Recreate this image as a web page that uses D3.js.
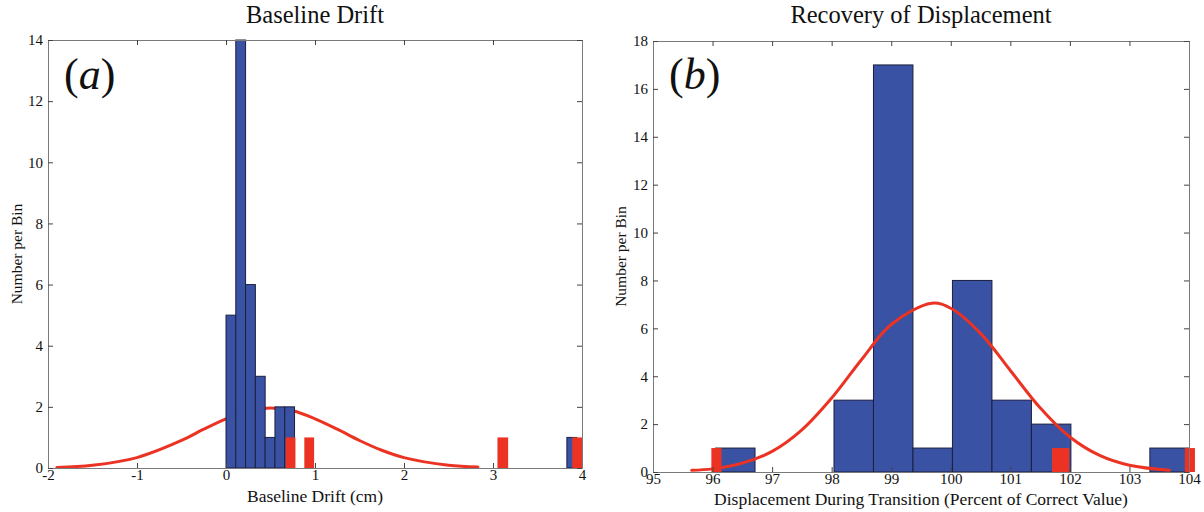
<!DOCTYPE html>
<html>
<head>
<meta charset="utf-8">
<script src="https://cdn.jsdelivr.net/npm/d3@7"></script>
<style>
  html, body { margin: 0; padding: 0; background: #fff; }
  svg { display: block; }
  text { font-family: "Liberation Serif", "Times New Roman", serif; fill: #111; }
  .tick text { font-size: 15px; fill: #111; }
</style>
</head>
<body>
<svg id="chart" width="1204" height="512"></svg>
<script>
// ---- Panel (a): baseline drift histogram ----
const driftBinStart = 0.0;
const driftBinWidth = 0.11;
const driftCounts = [5, 14, 6, 3, 1, 2, 2];
const driftFarBins = [[3.83, 3.94, 1]];          // isolated bin far to the right: [x0, x1, count]
const driftOutliers = [[0.67, 0.78], [0.88, 0.99], [3.05, 3.17], [3.89, 4.0]];
const driftFitX = [-1.9, -1.5, -1.0, -0.5, -0.25, 0.0, 0.25, 0.5, 0.75, 1.0, 1.25, 1.5, 1.75, 2.0, 2.5, 2.83];
const driftFitY = [0.02, 0.09, 0.34, 0.9, 1.27, 1.61, 1.87, 1.96, 1.87, 1.61, 1.27, 0.9, 0.58, 0.34, 0.09, 0.03];
const driftXTicks = [-2, -1, 0, 1, 2, 3, 4];
const driftYTicks = [0, 2, 4, 6, 8, 10, 12, 14];

// ---- Panel (b): recovery of displacement histogram ----
const recBinStart = 96.05;
const recBinWidth = 0.663;
const recCounts = [1, 0, 0, 3, 17, 1, 8, 3, 2, 0, 0, 1];
const recOutliers = [[95.98, 96.15], [101.7, 101.99], [103.93, 104.1]];
const recFitX = [95.65, 96.0, 96.5, 97.0, 97.5, 98.0, 98.5, 99.0, 99.68, 100.0, 100.5, 101.0, 101.5, 102.0, 102.5, 103.0, 103.67];
const recFitY = [0.07, 0.13, 0.37, 0.86, 1.76, 3.09, 4.69, 6.16, 7.05, 6.84, 5.79, 4.24, 2.68, 1.46, 0.69, 0.28, 0.07];
const recXTicks = [95, 96, 97, 98, 99, 100, 101, 102, 103, 104];
const recYTicks = [0, 2, 4, 6, 8, 10, 12, 14, 16, 18];

const BLUE = "#3952a4";
const BAR_EDGE = "#1c1f3f";
const RED = "#ec3323";
const FRAME = "#7a7a7a";

const svg = d3.select("#chart");
svg.append("rect").attr("width", 1204).attr("height", 512).attr("fill", "#fff");

const plainNumber = d => String(d);   // hyphen minus, as in the printed figure

function panel(opt) {
  const g = svg.append("g");
  const x = d3.scaleLinear().domain(opt.xDomain).range([opt.left, opt.right]);
  const y = d3.scaleLinear().domain(opt.yDomain).range([opt.bottom, opt.top]);

  const bars = opt.bars;   // [x0, x1, count]
  const drawCurve = () => {
    const line = d3.line().x(d => x(d[0])).y(d => y(d[1])).curve(d3.curveCatmullRom.alpha(0.5));
    g.append("path")
      .datum(opt.fitX.map((v, i) => [v, opt.fitY[i]]))
      .attr("d", line)
      .attr("fill", "none")
      .attr("stroke", RED)
      .attr("stroke-width", 3)
      .attr("stroke-linecap", "round");
  };
  const drawBars = () => {
    g.append("g").selectAll("rect")
      .data(bars.filter(b => b[2] > 0))
      .join("rect")
      .attr("x", d => x(d[0]))
      .attr("width", d => x(d[1]) - x(d[0]))
      .attr("y", d => y(d[2]))
      .attr("height", d => y(0) - y(d[2]))
      .attr("fill", BLUE)
      .attr("stroke", BAR_EDGE)
      .attr("stroke-width", 1);
  };

  if (opt.curveOnTop) { drawBars(); drawCurve(); } else { drawCurve(); drawBars(); }

  // outlier markers, one count each
  g.append("g").selectAll("rect")
    .data(opt.outliers)
    .join("rect")
    .attr("x", d => x(d[0]))
    .attr("width", d => x(d[1]) - x(d[0]))
    .attr("y", y(1))
    .attr("height", y(0) - y(1))
    .attr("fill", RED);

  // frame with inward ticks on all four sides
  const axB = g.append("g").attr("transform", `translate(0,${opt.bottom})`)
    .call(d3.axisBottom(x).tickValues(opt.xTicks).tickSizeInner(-5).tickSizeOuter(0).tickPadding(1).tickFormat(plainNumber));
  const axT = g.append("g").attr("transform", `translate(0,${opt.top})`)
    .call(d3.axisTop(x).tickValues(opt.xTicks).tickSizeInner(-5).tickSizeOuter(0).tickFormat(""));
  const axL = g.append("g").attr("transform", `translate(${opt.left},0)`)
    .call(d3.axisLeft(y).tickValues(opt.yTicks).tickSizeInner(-5).tickSizeOuter(0).tickPadding(5).tickFormat(plainNumber));
  const axR = g.append("g").attr("transform", `translate(${opt.right},0)`)
    .call(d3.axisRight(y).tickValues(opt.yTicks).tickSizeInner(-5).tickSizeOuter(0).tickFormat(""));
  [axB, axT, axL, axR].forEach(a => {
    a.attr("font-family", null).attr("font-size", null);
    a.select(".domain").attr("stroke", FRAME);
    a.selectAll(".tick line").attr("stroke", "#444");
  });

  // titles and labels
  const cx = (opt.left + opt.right) / 2;
  g.append("text").attr("x", cx).attr("y", 23).attr("text-anchor", "middle")
    .attr("font-size", 24.5).text(opt.title);
  g.append("text").attr("x", cx).attr("y", opt.xLabelY).attr("text-anchor", "middle")
    .attr("font-size", 17.5).text(opt.xLabel);
  g.append("text").attr("transform", `translate(${opt.yLabelX},${(opt.top + opt.bottom) / 2}) rotate(-90)`)
    .attr("text-anchor", "middle").attr("font-size", 15.5).text("Number per Bin");

  // panel tag "(a)" / "(b)"
  const tag = g.append("text").attr("x", opt.left + 16).attr("y", 89).attr("font-size", 44);
  tag.append("tspan").text("(");
  tag.append("tspan").attr("font-style", "italic").text(opt.tag);
  tag.append("tspan").text(")");
}

const driftBars = driftCounts.map((c, i) => [driftBinStart + i * driftBinWidth, driftBinStart + (i + 1) * driftBinWidth, c])
  .concat(driftFarBins);
panel({
  left: 48, right: 582, top: 40, bottom: 468,
  xDomain: [-2, 4], yDomain: [0, 14],
  bars: driftBars, outliers: driftOutliers,
  fitX: driftFitX, fitY: driftFitY, curveOnTop: false,
  xTicks: driftXTicks, yTicks: driftYTicks,
  title: "Baseline Drift", xLabel: "Baseline Drift (cm)", xLabelY: 502,
  yLabelX: 22, tag: "a"
});

const recBars = recCounts.map((c, i) => [recBinStart + i * recBinWidth, recBinStart + (i + 1) * recBinWidth, c]);
panel({
  left: 653, right: 1189, top: 41, bottom: 472,
  xDomain: [95, 104], yDomain: [0, 18],
  bars: recBars, outliers: recOutliers,
  fitX: recFitX, fitY: recFitY, curveOnTop: true,
  xTicks: recXTicks, yTicks: recYTicks,
  title: "Recovery of Displacement", xLabel: "Displacement During Transition (Percent of Correct Value)", xLabelY: 505,
  yLabelX: 626, tag: "b"
});
</script>
</body>
</html>
